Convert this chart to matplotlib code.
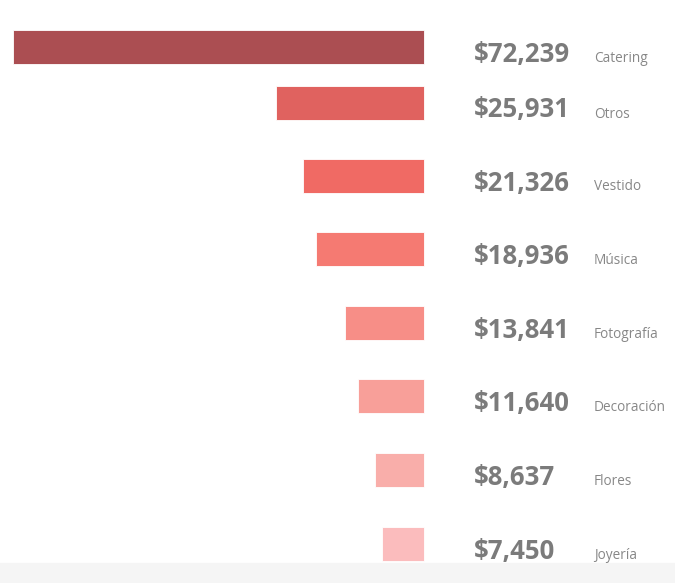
import matplotlib
matplotlib.use("Agg")
import matplotlib.pyplot as plt

categories = ["Catering", "Otros", "Vestido", "Música", "Fotografía",
              "Decoración", "Flores", "Joyería"]
values = [72239, 25931, 21326, 18936, 13841, 11640, 8637, 7450]
value_labels = ["$72,239", "$25,931", "$21,326", "$18,936", "$13,841",
                "$11,640", "$8,637", "$7,450"]
colors = ["#ab4e52", "#e0625f", "#f06a64", "#f57a72", "#f78e87",
          "#f89f99", "#f9aeaa", "#fbbcbd"]

# layout (pixel units, figure is 675 x 583)
W, H = 675, 583
bar_right = 424
bar_span = 411
row_y = [47, 102.5, 175.5, 249, 323, 396, 470, 544]
bar_h = 34

k = values[0] / bar_span  # value units per pixel

fig = plt.figure(figsize=(W / 100, H / 100), dpi=100)
ax = fig.add_axes([0, 0, 1, 1])
ax.set_xlim(-bar_right * k, (W - bar_right) * k)
ax.set_ylim(H, 0)
ax.axis("off")

ax.axhspan(563, H, color="#f5f5f5", zorder=0)

ax.barh(row_y, [-v for v in values], height=bar_h, color=colors,
        edgecolor="white", linewidth=0.6, zorder=2)

for y, lab, cat in zip(row_y, value_labels, categories):
    ax.text(50 * k, y + 15, lab, fontsize=18.5, fontweight="bold",
            family=["Open Sans", "DejaVu Sans"], color="#7b7b7b",
            ha="left", va="baseline")
    ax.text(170 * k, y + 15, cat, fontsize=9.8,
            family=["Open Sans", "DejaVu Sans"], color="#878787",
            ha="left", va="baseline")

fig.savefig("out.png", dpi=100)
